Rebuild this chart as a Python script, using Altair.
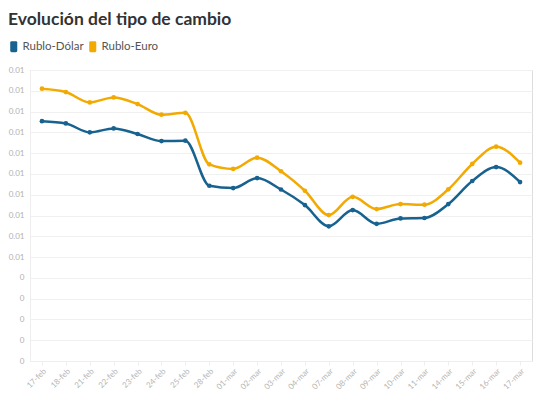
import altair as alt
import pandas as pd

dates = ["17-feb", "18-feb", "21-feb", "22-feb", "23-feb", "24-feb", "25-feb", "28-feb",
         "01-mar", "02-mar", "03-mar", "04-mar", "07-mar", "08-mar", "09-mar", "10-mar",
         "11-mar", "14-mar", "15-mar", "16-mar", "17-mar"]
rublo_dolar = [0.01154, 0.01143, 0.01100, 0.01119, 0.01092, 0.01058, 0.01060, 0.00843,
               0.00832, 0.00880, 0.00825, 0.00750, 0.00648, 0.00726, 0.00660, 0.00686,
               0.00688, 0.00755, 0.00866, 0.00933, 0.00861]
rublo_euro = [0.01310, 0.01294, 0.01244, 0.01268, 0.01236, 0.01185, 0.01194, 0.00946,
              0.00924, 0.00978, 0.00913, 0.00819, 0.00702, 0.00790, 0.00731, 0.00755,
              0.00752, 0.00826, 0.00948, 0.01031, 0.00954]
series = ["Rublo-Dólar", "Rublo-Euro"]
colors = ["#17628f", "#f2aa00"]
y_ticks = [0.0, 0.001, 0.002, 0.003, 0.004, 0.005, 0.006, 0.007, 0.008, 0.009,
           0.01, 0.011, 0.012, 0.013, 0.014]

rows = []
for d, v in zip(dates, rublo_dolar):
    rows.append({"fecha": d, "serie": series[0], "valor": v})
for d, v in zip(dates, rublo_euro):
    rows.append({"fecha": d, "serie": series[1], "valor": v})
df = pd.DataFrame(rows)

FONT = "Lato"
rounded = ("M-0.64,-0.75 Q-0.64,-1 -0.39,-1 L0.39,-1 Q0.64,-1 0.64,-0.75 "
           "L0.64,0.75 Q0.64,1 0.39,1 L-0.39,1 Q-0.64,1 -0.64,0.75 Z")

x = alt.X("fecha:N", sort=dates, scale=alt.Scale(type="point", padding=0.5),
          axis=alt.Axis(title=None, labelAngle=-45, labelColor="#b5b5b5", labelFontSize=8,
                        labelFont=FONT, tickColor="#eeeeee", tickSize=4,
                        domainColor="#eeeeee", grid=False, labelPadding=2))
y = alt.Y("valor:Q", scale=alt.Scale(domain=[0, 0.014], nice=False, zero=True),
          axis=alt.Axis(title=None, values=y_ticks, format=".2~f", labelColor="#b0b0b0",
                        labelFontSize=8, labelFont=FONT, ticks=False, labelPadding=6,
                        domainColor="#eeeeee", gridColor="#f0f0f0", gridWidth=1))
color_scale = alt.Scale(domain=series, range=colors)
color = alt.Color("serie:N", scale=color_scale,
                  legend=alt.Legend(title=None, orient="none", direction="horizontal",
                                    legendX=-22, legendY=-29.5, symbolType=rounded,
                                    symbolSize=121, symbolStrokeWidth=0, symbolOpacity=1,
                                    labelFont=FONT, labelFontSize=11.5, labelColor="#555555",
                                    labelOffset=3, columnPadding=3, padding=0))

base = alt.Chart(df)
lines = base.mark_line(interpolate="monotone", strokeWidth=2.5).encode(x=x, y=y, color=color)
points = base.mark_circle(size=22, opacity=1).encode(
    x=x, y=y, color=alt.Color("serie:N", scale=color_scale, legend=None))

chart = (lines + points).properties(
    width=502, height=291,
    title=alt.TitleParams("Evolución del tipo de cambio", anchor="start", frame="group",
                          dx=-22, font=FONT, fontSize=17.5, fontWeight="bold",
                          color="#333333", offset=12),
    autosize=alt.AutoSizeParams(type="none"),
    padding={"left": 22, "top": 62, "right": 4, "bottom": 30},
).configure_view(stroke=None).configure(background="white")

chart.save("out.html", embed_options={"renderer": "svg", "actions": False})
